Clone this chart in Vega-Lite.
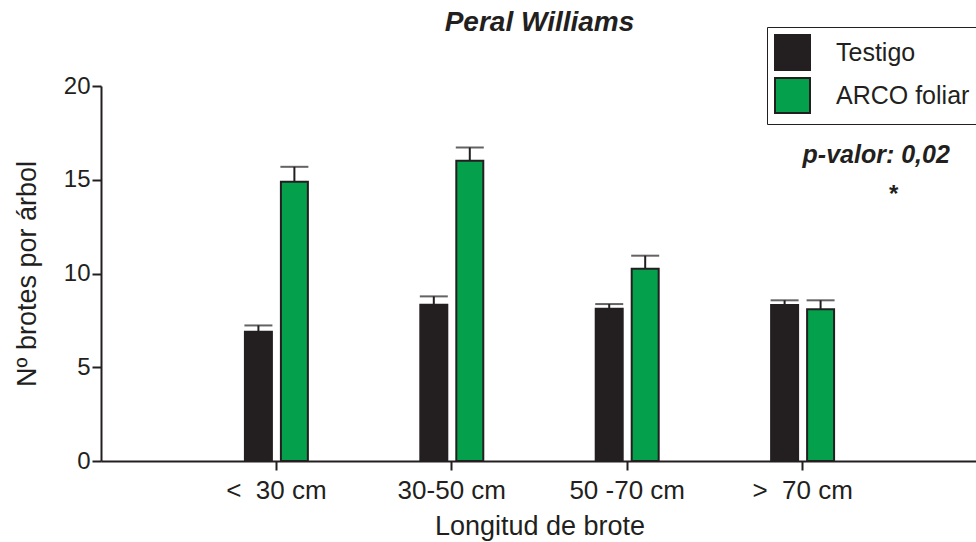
{
  "$schema": "https://vega.github.io/schema/vega-lite/v6.json",
  "autosize": "none",
  "width": 877,
  "height": 375,
  "padding": {"left": 101, "top": 86, "right": 0, "bottom": 81},
  "background": "white",
  "config": {
    "font": "Liberation Sans",
    "view": {"stroke": null},
    "axis": {
      "domainColor": "#231f20",
      "domainWidth": 2,
      "tickColor": "#231f20",
      "tickWidth": 2,
      "tickSize": 9,
      "labelColor": "#231f20",
      "labelFont": "Liberation Sans",
      "titleFont": "Liberation Sans",
      "titleFontSize": 27,
      "titleFontWeight": "normal",
      "titleColor": "#231f20",
      "grid": false
    }
  },
  "title": {
    "text": "Peral Williams",
    "font": "Liberation Sans",
    "fontSize": 28,
    "fontWeight": "bold",
    "fontStyle": "italic",
    "color": "#231f20",
    "anchor": "middle",
    "offset": -10
  },
  "data": {
    "values": [
      {"longitud": "<\u00a0\u00a030 cm", "tratamiento": "Testigo", "media": 6.9, "superior": 7.23},
      {"longitud": "<\u00a0\u00a030 cm", "tratamiento": "ARCO foliar", "media": 14.9, "superior": 15.69},
      {"longitud": "30-50 cm", "tratamiento": "Testigo", "media": 8.34, "superior": 8.78},
      {"longitud": "30-50 cm", "tratamiento": "ARCO foliar", "media": 16.02, "superior": 16.72},
      {"longitud": "50 -70 cm", "tratamiento": "Testigo", "media": 8.12, "superior": 8.37},
      {"longitud": "50 -70 cm", "tratamiento": "ARCO foliar", "media": 10.25, "superior": 10.95},
      {"longitud": ">\u00a0\u00a070 cm", "tratamiento": "Testigo", "media": 8.32, "superior": 8.57},
      {"longitud": ">\u00a0\u00a070 cm", "tratamiento": "ARCO foliar", "media": 8.09, "superior": 8.57}
    ]
  },
  "encoding": {
    "x": {
      "field": "longitud",
      "type": "nominal",
      "sort": ["<\u00a0\u00a030 cm", "30-50 cm", "50 -70 cm", ">\u00a0\u00a070 cm"],
      "scale": {"paddingInner": 0.641, "paddingOuter": 0.8205},
      "axis": {"title": "Longitud de brote", "labelAngle": 0, "labelFontSize": 26, "labelPadding": 7, "titlePadding": 10}
    },
    "xOffset": {
      "field": "tratamiento",
      "type": "nominal",
      "sort": ["Testigo", "ARCO foliar"],
      "scale": {"paddingInner": 0.25, "paddingOuter": 0}
    }
  },
  "layer": [
    {
      "mark": {"type": "rule", "color": "#231f20", "strokeWidth": 2},
      "encoding": {
        "y": {"field": "media", "type": "quantitative"},
        "y2": {"field": "superior"}
      }
    },
    {
      "mark": {"type": "tick", "color": "#231f20", "thickness": 2, "size": 28, "orient": "horizontal"},
      "encoding": {
        "y": {"field": "superior", "type": "quantitative"}
      }
    },
    {
      "mark": {"type": "bar", "stroke": "#231f20", "strokeWidth": 2},
      "encoding": {
        "y": {
          "field": "media",
          "type": "quantitative",
          "scale": {"domain": [0, 20], "nice": false},
          "axis": {"values": [0, 5, 10, 15, 20], "title": "Nº brotes por árbol", "labelFontSize": 24, "labelPadding": 2, "titlePadding": 22}
        },
        "fill": {
          "field": "tratamiento",
          "type": "nominal",
          "sort": ["Testigo", "ARCO foliar"],
          "scale": {"domain": ["Testigo", "ARCO foliar"], "range": ["#231f20", "#05a04b"]},
          "legend": {
            "title": null,
            "orient": "none",
            "legendX": 666,
            "legendY": -59,
            "strokeColor": "#231f20",
            "padding": 7,
            "symbolType": "square",
            "symbolSize": 1225,
            "symbolStrokeColor": "#231f20",
            "symbolStrokeWidth": 2,
            "symbolOpacity": 1,
            "labelFont": "Liberation Sans",
            "labelFontSize": 25,
            "labelColor": "#231f20",
            "labelOffset": 25,
            "rowPadding": 0
          }
        }
      }
    },
    {
      "data": {"values": [{"longitud": ">\u00a0\u00a070 cm", "valor": 15.9, "texto": "p-valor: 0,02"}]},
      "mark": {"type": "text", "align": "left", "baseline": "alphabetic", "font": "Liberation Sans", "fontSize": 25, "fontWeight": "bold", "fontStyle": "italic", "color": "#231f20"},
      "encoding": {
        "xOffset": null,
        "y": {"field": "valor", "type": "quantitative"},
        "text": {"field": "texto"}
      }
    },
    {
      "data": {"values": [{"longitud": ">\u00a0\u00a070 cm", "valor": 14.2, "texto": "*"}]},
      "mark": {"type": "text", "align": "center", "baseline": "middle", "dx": 91, "font": "Liberation Sans", "fontSize": 24, "fontWeight": "bold", "color": "#231f20"},
      "encoding": {
        "xOffset": null,
        "y": {"field": "valor", "type": "quantitative"},
        "text": {"field": "texto"}
      }
    }
  ]
}
